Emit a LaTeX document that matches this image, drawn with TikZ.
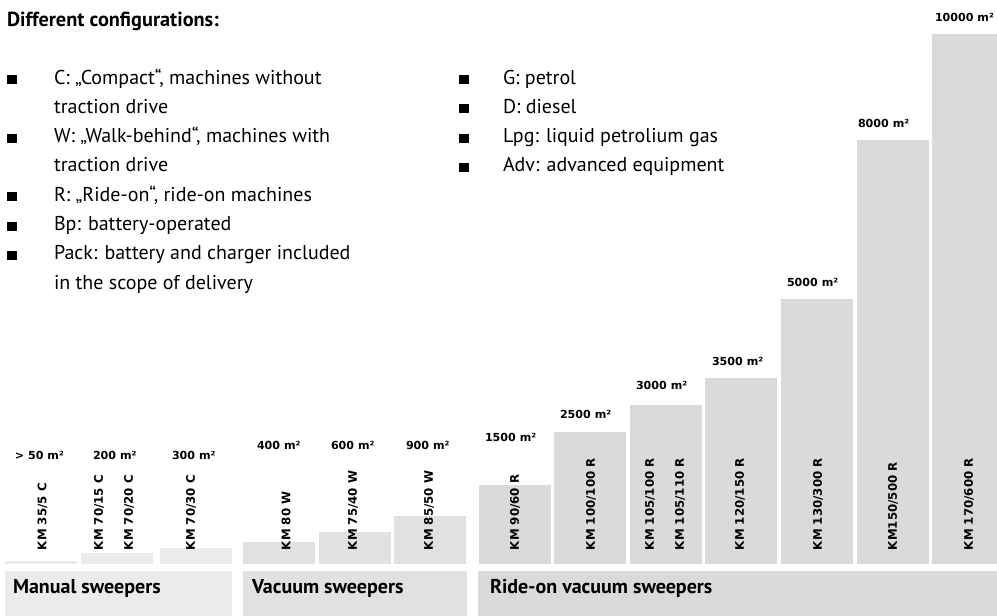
\documentclass[tikz,border=0pt]{standalone}
\usepackage{fontspec}
\setmainfont{PT Sans}
\newfontfamily\widefont{DejaVu Sans}
\definecolor{manc}{HTML}{EBEBEB}
\definecolor{vacc}{HTML}{E1E1E1}
\definecolor{ridc}{HTML}{D9DADA}
\begin{document}
\begin{tikzpicture}[x=1pt,y=-1pt,
  every node/.style={inner sep=0pt,outer sep=0pt},
  body/.style={anchor=base west,font=\fontsize{20}{22}\selectfont},
  title/.style={anchor=base west,font=\fontsize{20.3}{22}\selectfont\bfseries},
  cat/.style={anchor=base west,font=\fontsize{20}{22}\selectfont\bfseries},
  val/.style={anchor=west,font=\widefont\fontsize{11.1}{13}\selectfont\bfseries},
  model/.style={anchor=west,rotate=90,font=\widefont\fontsize{11.8}{14}\selectfont\bfseries},
  bul/.style={fill=black}]
\useasboundingbox (0,0) rectangle (997,616);
% title
\node[title] (t) at (7,26) {Different configurations:};
% left list
\foreach \y in {84,142.6,201.2,230.5,259.8}{\fill[bul] (7,\y-9) rectangle (16.5,\y);}
\node[body] (l1) at (54,84) {C: „Compact“, machines without};
\node[body] (l2) at (54,113.3) {traction drive};
\node[body] (l3) at (54,142.6) {W: „Walk-behind“, machines with};
\node[body] (l4) at (54,171.9) {traction drive};
\node[body] (l5) at (54,201.2) {R: „Ride-on“, ride-on machines};
\node[body] (l6) at (54,230.5) {Bp: battery-operated};
\node[body] (l7) at (54,259.8) {Pack: battery and charger included};
\node[body] (l8) at (54,289.1) {in the scope of delivery};
% right list
\foreach \y in {84,113.3,142.6,171.9}{\fill[bul] (459,\y-9) rectangle (468.5,\y);}
\node[body] (r1) at (503,84) {G: petrol};
\node[body] (r2) at (503,113.3) {D: diesel};
\node[body] (r3) at (503,142.6) {Lpg: liquid petrolium gas};
\node[body] (r4) at (503,171.9) {Adv: advanced equipment};
% bars manual
\fill[manc] (5,561) rectangle (77,564);
\fill[manc] (81,553) rectangle (153,564);
\fill[manc] (160,548) rectangle (232,564);
% bars vacuum
\fill[vacc] (243,542) rectangle (315,564);
\fill[vacc] (319,532) rectangle (391,564);
\fill[vacc] (394,516) rectangle (466,564);
% bars ride-on
\fill[ridc] (479,485) rectangle (551,564);
\fill[ridc] (554,432) rectangle (626,564);
\fill[ridc] (630,405) rectangle (702,564);
\fill[ridc] (705,378) rectangle (777,564);
\fill[ridc] (781,299) rectangle (853,564);
\fill[ridc] (857,140) rectangle (929,564);
\fill[ridc] (932,34) rectangle (997,564);
% category boxes
\fill[manc] (5,571) rectangle (232,616);
\fill[vacc] (243,571) rectangle (467,616);
\fill[ridc] (478,571) rectangle (997,616);
\node[cat] (c1) at (13,593) {Manual sweepers};
\node[cat] (c2) at (252,593) {Vacuum sweepers};
\node[cat] (c3) at (490,593) {Ride-on vacuum sweepers};
% values
\node[val] (v1) at (15,455) {> 50 m²};
\node[val] (v2) at (93,455) {200 m²};
\node[val] (v3) at (172,455) {300 m²};
\node[val] (v4) at (257,445) {400 m²};
\node[val] (v5) at (331,445) {600 m²};
\node[val] (v6) at (406,445) {900 m²};
\node[val] (v7) at (485,437) {1500 m²};
\node[val] (v8) at (560,414) {2500 m²};
\node[val] (v9) at (636,385) {3000 m²};
\node[val] (v10) at (712,361) {3500 m²};
\node[val] (v11) at (787,282) {5000 m²};
\node[val] (v12) at (858,123) {8000 m²};
\node[val] (v13) at (935,17) {10000 m²};
% models
\node[model] (m1) at (42.5,550) {KM 35/5 C};
\node[model] (m2) at (99,550) {KM 70/15 C};
\node[model] (m3) at (129,550) {KM 70/20 C};
\node[model] (m4) at (191,550) {KM 70/30 C};
\node[model] (m5) at (286,550) {KM 80 W};
\node[model] (m6) at (353,550) {KM 75/40 W};
\node[model] (m7) at (429,550) {KM 85/50 W};
\node[model] (m8) at (515,550) {KM 90/60 R};
\node[model] (m9) at (591,550) {KM 100/100 R};
\node[model] (m10) at (650,550) {KM 105/100 R};
\node[model] (m11) at (680,550) {KM 105/110 R};
\node[model] (m12) at (740,550) {KM 120/150 R};
\node[model] (m13) at (818,550) {KM 130/300 R};
\node[model] (m14) at (893,550) {KM150/500 R};
\node[model] (m15) at (969,550) {KM 170/600 R};
\end{tikzpicture}
\end{document}
